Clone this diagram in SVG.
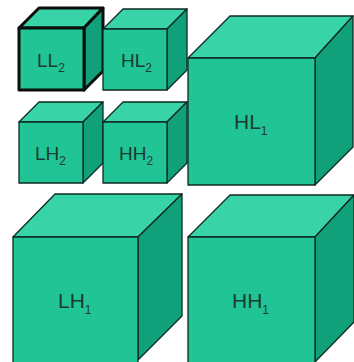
<svg xmlns="http://www.w3.org/2000/svg" width="354" height="362" viewBox="0 0 354 362">
<style>
.front{fill:#21C495;stroke:#0f2a22;stroke-width:1.3;stroke-linejoin:round}
.top{fill:#38D3A6;stroke:#0f2a22;stroke-width:1.3;stroke-linejoin:round}
.side{fill:#10A07A;stroke:#0f2a22;stroke-width:1.3;stroke-linejoin:round}
.bold .front,.bold .top,.bold .side{stroke:#0a0f0c;stroke-width:3}
.lbl{font-family:"Liberation Sans",Arial,sans-serif;fill:#1b3a30}
.s{font-size:19px}
.b{font-size:21px}
.sub{font-size:12px}
</style>
<rect width="354" height="362" fill="#ffffff"/>
<g id="LL2" class="bold">
<polygon class="top" points="19,28 39,8 103,8 84,28"/>
<polygon class="side" points="84,28 103,8 103,71 84,90"/>
<rect class="front" x="19" y="28" width="65" height="62"/>
<text class="lbl s" x="37" y="67">LL<tspan class="sub" dy="5">2</tspan></text>
</g>
<g id="HL2">
<polygon class="top" points="103,29 123,9 187,9 167,29"/>
<polygon class="side" points="167,29 187,9 187,70 167,90"/>
<rect class="front" x="103" y="29" width="64" height="61"/>
<text class="lbl s" x="121" y="67">HL<tspan class="sub" dy="5">2</tspan></text>
</g>
<g id="LH2">
<polygon class="top" points="19,122 39,102 103,102 83,122"/>
<polygon class="side" points="83,122 103,102 103,163 83,183"/>
<rect class="front" x="19" y="122" width="64" height="61"/>
<text class="lbl s" x="35" y="160">LH<tspan class="sub" dy="5">2</tspan></text>
</g>
<g id="HH2">
<polygon class="top" points="103,122 123,102 187,102 167,122"/>
<polygon class="side" points="167,122 187,102 187,163 167,183"/>
<rect class="front" x="103" y="122" width="64" height="61"/>
<text class="lbl s" x="119" y="160">HH<tspan class="sub" dy="5">2</tspan></text>
</g>
<g id="HL1">
<polygon class="top" points="188,58 230,16 353,16 315,58"/>
<polygon class="side" points="315,58 353,16 353,147 315,185"/>
<rect class="front" x="188" y="58" width="127" height="127"/>
<text class="lbl b" x="234" y="129">HL<tspan class="sub" dy="6">1</tspan></text>
</g>
<g id="LH1">
<polygon class="top" points="13,237 55,194 182,194 138,237"/>
<polygon class="side" points="138,237 182,194 182,316 138,360"/>
<rect class="front" x="13" y="237" width="125" height="126"/>
<text class="lbl b" x="58" y="308">LH<tspan class="sub" dy="6">1</tspan></text>
</g>
<g id="HH1">
<polygon class="top" points="188,237 230,195 354,195 315,237"/>
<polygon class="side" points="315,237 354,195 354,322 315,362"/>
<rect class="front" x="188" y="237" width="127" height="126"/>
<text class="lbl b" x="232" y="308">HH<tspan class="sub" dy="6">1</tspan></text>
</g>
<g id="connectors"/>
</svg>
